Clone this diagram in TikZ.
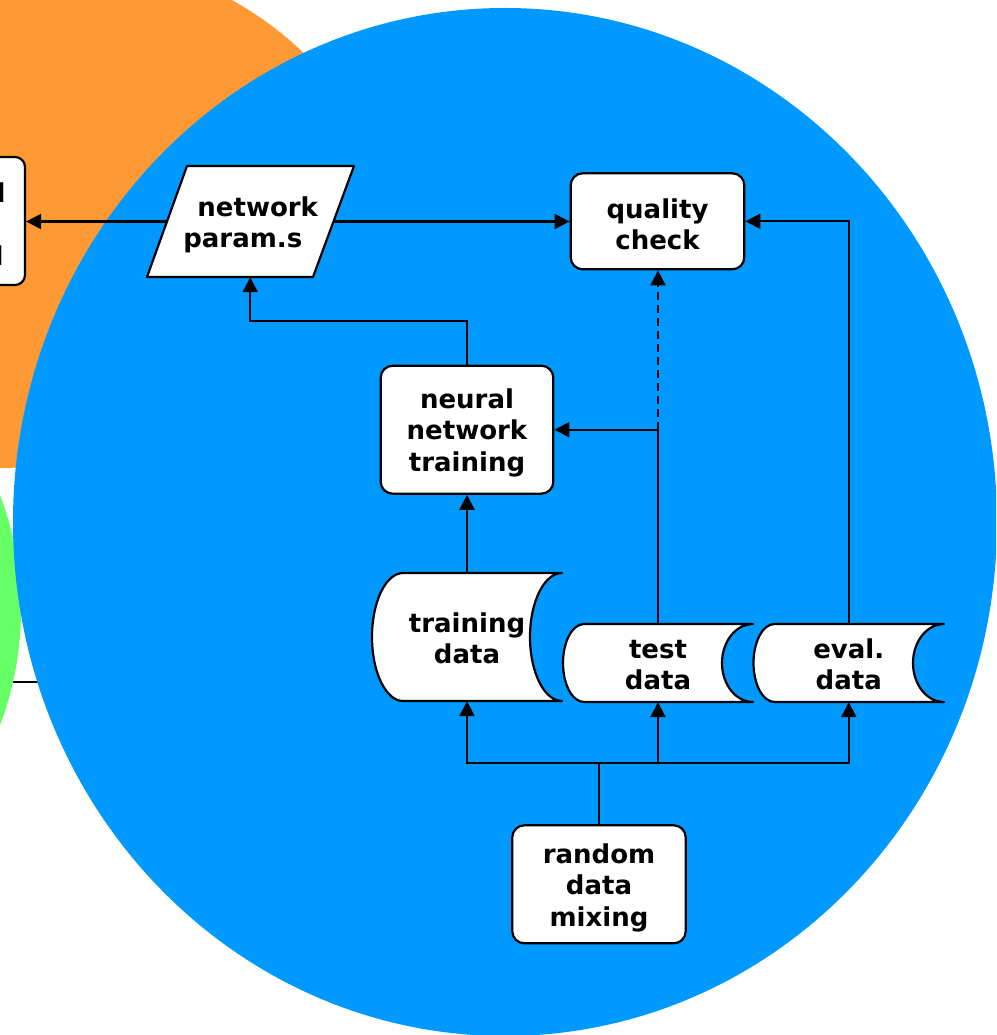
\documentclass[tikz,border=0pt]{standalone}
\usepackage{fontspec}
\setmainfont{DejaVu Sans}
\usetikzlibrary{arrows.meta}
\definecolor{orng}{RGB}{255,153,51}
\definecolor{blu}{RGB}{0,153,255}
\definecolor{grn}{RGB}{102,255,102}
\newcommand{\TopStrut}{\rule{0pt}{26pt}}
\newcommand{\LowStrut}{\rule{0pt}{22pt}}
\newcommand{\storedshape}[6]{% xL, yT, w, h, dL, dR
  \pgfmathsetmacro{\SDxl}{#1}%
  \pgfmathsetmacro{\SDxr}{#1+#3}%
  \pgfmathsetmacro{\SDyt}{#2}%
  \pgfmathsetmacro{\SDyb}{#2+#4}%
  \pgfmathsetmacro{\SDym}{#2+#4/2}%
  \pgfmathsetmacro{\SDyu}{#2+#4/2-0.5523*#4/2}%
  \pgfmathsetmacro{\SDyd}{#2+#4/2+0.5523*#4/2}%
  \pgfmathsetmacro{\SDlp}{#1+#5}%
  \pgfmathsetmacro{\SDlq}{#1+#5-0.5523*#5}%
  \pgfmathsetmacro{\SDrr}{#1+#3-#6}%
  \pgfmathsetmacro{\SDrs}{#1+#3-0.5523*#6}%
  \draw[shapeline, fill=white] (\SDlp,\SDyt) -- (\SDxr,\SDyt)
    .. controls (\SDrs,\SDyt) and (\SDrr,\SDyu) .. (\SDrr,\SDym)
    .. controls (\SDrr,\SDyd) and (\SDrs,\SDyb) .. (\SDxr,\SDyb)
    -- (\SDlp,\SDyb)
    .. controls (\SDlq,\SDyb) and (\SDxl,\SDyd) .. (\SDxl,\SDym)
    .. controls (\SDxl,\SDyu) and (\SDlq,\SDyt) .. (\SDlp,\SDyt) -- cycle;
}
\begin{document}
\begin{tikzpicture}[x=1pt,y=-1pt,
  txt/.style={font=\bfseries\fontsize{26}{31.5}\selectfont},
  box/.style={txt, draw, fill=white, rounded corners=12pt, line width=2.2pt, align=center, inner sep=0pt},
  lbl/.style={txt, align=center, inner sep=0pt},
  shapeline/.style={line width=2.2pt, line join=round},
  wire/.style={line width=2.2pt},
  conn/.style={line width=2.2pt, -{Triangle[length=15pt,width=15pt]}},
  dashconn/.style={conn, dash pattern=on 8pt off 5pt}]
\useasboundingbox (0,0) rectangle (996,1035);
\clip (0,0) rectangle (996,1035);
% background circles
\fill[orng] (-5,205) ellipse [x radius=378, y radius=263];
\coordinate (ha) at (0,682);
\coordinate (hb) at (60,682);
\draw[wire] (ha) -- (hb);
\fill[grn] (-304,610) circle [radius=325];
\fill[blu] (505,522) ellipse [x radius=492, y radius=514];
% boxes
\node[box, rounded corners=10pt, minimum width=133pt, minimum height=128pt] (app) at (-41.5,221) {\TopStrut neural\\net\\model};
\draw[shapeline, fill=white] (147,277) -- (187,166) -- (354,166) -- (313,277) -- cycle;
\node[lbl, minimum width=166.5pt, minimum height=111pt] (params) at (250.25,221.5) {\TopStrut\hspace*{15pt}network\\param.s\hspace*{15pt}};
\node[box, minimum width=173.6pt, minimum height=96pt] (quality) at (657.5,221.3) {\TopStrut quality\\check};
\node[box, minimum width=172.6pt, minimum height=128pt] (nnt) at (467,429.7) {\TopStrut neural\\network\\training};
\storedshape{372}{573}{190}{128}{31}{32}
\node[lbl, minimum width=190pt, minimum height=128pt] (train) at (467,637) {\LowStrut training\\data};
\storedshape{563}{624}{190}{78}{21}{31}
\node[lbl, minimum width=190pt, minimum height=78pt] (test) at (658,663) {\LowStrut test\\data};
\storedshape{753.5}{624}{190.5}{78}{21}{31}
\node[lbl, minimum width=190.5pt, minimum height=78pt] (eval) at (848.75,663) {\LowStrut eval.\\data};
\node[box, minimum width=173.4pt, minimum height=118pt] (mix) at (599,884.3) {\TopStrut random\\data\\mixing};
% connectors
\draw[conn] (params.west) -- (params.west -| app.east);
\draw[conn] (params.east) -- (params.east -| quality.west);
\draw[conn] (eval.north) |- (quality.east);
\coordinate (j1) at (test.north |- nnt.east);
\draw[wire] (test.north) -- (j1);
\draw[conn] (j1) -- (nnt.east);
\draw[dashconn] (j1) -- (j1 |- quality.south);
\draw[conn] (nnt.north) -- ++(0,-44) -| (params.south);
\draw[conn] (train.north) -- (nnt.south);
\coordinate (j2) at (599,763);
\draw[wire] (mix.north) -- (j2);
\draw[conn] (j2) -| (train.south);
\draw[conn] (j2) -| (test.south);
\draw[conn] (j2) -| (eval.south);
\end{tikzpicture}
\end{document}
